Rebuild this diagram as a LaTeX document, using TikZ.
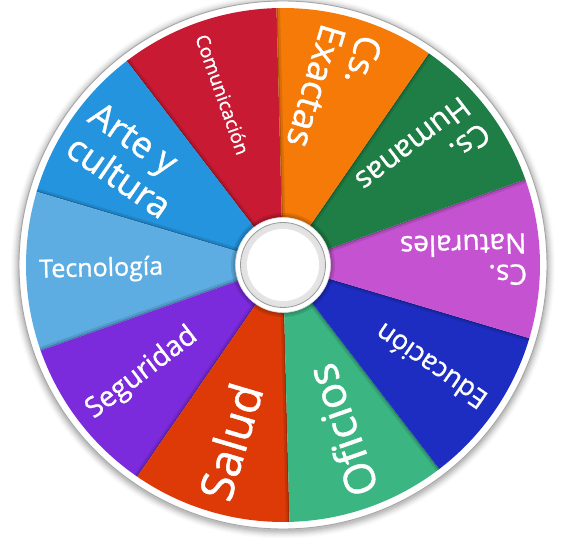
\documentclass[tikz,border=0pt]{standalone}
\usepackage{fontspec}
\setmainfont{Open Sans}[FakeBold=1.2]
\newfontfamily\lblfont{Open Sans}[FakeBold=1.1]
\usetikzlibrary{calc}
\definecolor{cCom}{HTML}{C81A33}
\definecolor{cExa}{HTML}{F57A08}
\definecolor{cHum}{HTML}{1E7E45}
\definecolor{cNat}{HTML}{C553D1}
\definecolor{cEdu}{HTML}{1D2DC2}
\definecolor{cOfi}{HTML}{3BB682}
\definecolor{cSal}{HTML}{DD3A07}
\definecolor{cSeg}{HTML}{7B2BDB}
\definecolor{cTec}{HTML}{5DADE2}
\definecolor{cArt}{HTML}{2494DE}
\tikzset{
  lbl/.style={text=white, anchor=west, inner sep=0pt, align=left},
}
\newcommand{\fs}[2]{\lblfont\fontsize{#1}{#2}\selectfont}
\begin{document}
\begin{tikzpicture}[x=1pt,y=1pt]
\useasboundingbox (0,0) rectangle (568,538);
\fill[white] (0,0) rectangle (568,538);
\coordinate (C) at (283,273);
\def\R{257}
\def\d{1.45}
% outer soft shadow
\foreach \i/\op in {8/0.015,7/0.02,6/0.025,5/0.03,4/0.035,3/0.04,2/0.05,1/0.06}{
  \fill[black, opacity=\op] ($(C)+(0,-1.5)$) circle (264+\i);
}
% white rim
\fill[white] (C) circle (264);
\draw[black!35, line width=0.9] (C) circle (264);
% slices
\foreach \a/\col in {90/cCom,126/cArt,162/cTec,198/cSeg,234/cSal,270/cOfi,306/cEdu,342/cNat,378/cHum,414/cExa}{
  \pgfmathsetmacro{\s}{\a+\d}
  \pgfmathsetmacro{\e}{\a+36+\d}
  \fill[\col] (C) -- ($(C)+(\s:\R)$) arc (\s:\e:\R) -- cycle;
  \begin{scope}
    \clip (C) -- ($(C)+(\s:\R)$) arc (\s:\e:\R) -- cycle;
    \draw[black, opacity=0.10, line width=7] (C) -- ($(C)+(\e:\R)$);
    \draw[black, opacity=0.18, line width=2.5] (C) -- ($(C)+(\e:\R)$);
  \end{scope}
}
% hub shadow
\fill[black, opacity=0.10] (C) circle (52);
\fill[black, opacity=0.10] (C) circle (50);
% hub
\fill[white] (C) circle (47.5);
\draw[black!15, line width=0.6] (C) circle (47.5);
\shade[inner color=white, outer color=black!12] (C) circle (42.5);
\fill[white] (C) circle (36);
\draw[black!40, line width=0.8] (C) circle (42.5);
% labels
\def\r{244}
\node[lbl, rotate=108+\d+180, font=\fs{19}{21}] (com) at ($(C)+(108+\d:\r)$) {Comunicación};
\node[lbl, rotate=72+\d+180, font=\fs{36}{38}] (exa) at ($(C)+(72+\d:\r)$) {Cs.\\Exactas};
\node[lbl, rotate=36+\d+180, font=\fs{30}{33}] (hum) at ($(C)+(36+\d:\r)$) {Cs.\\Humanas};
\node[lbl, rotate=0+\d+180, font=\fs{28}{31}] (nat) at ($(C)+(0+\d:\r)$) {Cs.\\Naturales};
\node[lbl, rotate=-36+\d+180, font=\fs{27}{30}] (edu) at ($(C)+(-36+\d:\r)$) {Educación};
\node[lbl, rotate=-72+\d+180, font=\fs{43}{47}] (ofi) at ($(C)+(-72+\d:\r)$) {Oficios};
\node[lbl, rotate=-108+\d+180, font=\fs{46}{50}] (sal) at ($(C)+(-108+\d:\r)$) {Salud};
\node[lbl, rotate=-144+\d+180, font=\fs{28}{31}] (seg) at ($(C)+(-144+\d:\r)$) {Seguridad};
\node[lbl, rotate=180+\d+180, font=\fs{25}{28}] (tec) at ($(C)+(180+\d:\r)$) {Tecnología};
\node[lbl, rotate=144+\d+180, font=\fs{36}{40}] (art) at ($(C)+(144+\d:\r)$) {Arte y\\cultura};
\end{tikzpicture}
\end{document}
